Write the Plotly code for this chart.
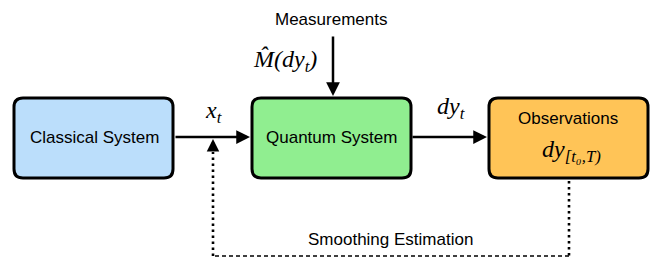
import plotly.graph_objects as go

# Diagram content
node_labels = ["Classical System", "Quantum System", "Observations"]
node_colors = ["#BBDEFB", "#90EE90", "#FFC457"]
obs_math = "dy<sub>[t₀,T)</sub>"
edge_labels = ["x<sub>t</sub>", "dy<sub>t</sub>"]
input_label = "Measurements"
input_math = "M̂(dy<sub>t</sub>)"
feedback_label = "Smoothing Estimation"

# Layout geometry (pixels)
W, H = 652, 257
box_x = [(14, 173), (252, 411), (489, 648)]
box_y = (98, 178)
R = 9
mid_y = 137

fig = go.Figure()
shapes = []
annotations = []

def rrect(x0, y0, x1, y1, r):
    return (f"M {x0+r},{y0} L {x1-r},{y0} Q {x1},{y0} {x1},{y0+r} "
            f"L {x1},{y1-r} Q {x1},{y1} {x1-r},{y1} L {x0+r},{y1} "
            f"Q {x0},{y1} {x0},{y1-r} L {x0},{y0+r} Q {x0},{y0} {x0+r},{y0} Z")

sans = "Liberation Sans, Arial, sans-serif"
serif = "Liberation Serif, Times New Roman, serif"
SF = 17
MF = 24

for (x0, x1), lab, col in zip(box_x, node_labels, node_colors):
    shapes.append(dict(type="path", path=rrect(x0, box_y[0], x1, box_y[1], R),
                       fillcolor=col, line=dict(color="black", width=3), layer="below"))

# box texts
annotations.append(dict(x=94, y=mid_y, text=node_labels[0], showarrow=False,
                        font=dict(family=sans, size=SF, color="black")))
annotations.append(dict(x=331, y=mid_y, text=node_labels[1], showarrow=False,
                        font=dict(family=sans, size=SF, color="black")))
annotations.append(dict(x=568, y=118, text=node_labels[2], showarrow=False,
                        font=dict(family=sans, size=SF, color="black")))
annotations.append(dict(x=571, y=151, text=f"<i>{obs_math}</i>", showarrow=False,
                        font=dict(family=serif, size=MF, color="black")))

# solid arrows
def arrow(x_tail, y_tail, x_tip, y_tip, size=1.1):
    annotations.append(dict(x=x_tip, y=y_tip, ax=x_tail, ay=y_tail,
                            xref="x", yref="y", axref="x", ayref="y",
                            text="", showarrow=True, arrowhead=2, arrowsize=size,
                            arrowwidth=2.5, arrowcolor="black", standoff=0))

arrow(174, mid_y, 250, mid_y)
arrow(411, mid_y, 487, mid_y)
arrow(333, 35, 333, 96)

# edge labels
annotations.append(dict(x=213, y=112, text=f"<i>{edge_labels[0]}</i>", showarrow=False,
                        font=dict(family=serif, size=MF, color="black")))
annotations.append(dict(x=451, y=108, text=f"<i>{edge_labels[1]}</i>", showarrow=False,
                        font=dict(family=serif, size=MF, color="black")))
annotations.append(dict(x=331, y=19, text=input_label, showarrow=False,
                        font=dict(family=sans, size=SF, color="black")))
annotations.append(dict(x=285, y=61, text=f"<i>{input_math}</i>", showarrow=False,
                        font=dict(family=serif, size=MF, color="black")))

# feedback path
dot = dict(color="black", width=2.6, dash="2.6px,3.4px")
shapes.append(dict(type="line", x0=569, y0=181, x1=569, y1=256, line=dot))
shapes.append(dict(type="line", x0=569, y0=256, x1=213, y1=256,
                   line=dict(color="black", width=1.3, dash="4px,3px")))
shapes.append(dict(type="line", x0=213, y0=256, x1=213, y1=152, line=dot))
arrow(213, 150, 213, 139, size=1.0)
annotations.append(dict(x=390, y=239, text=feedback_label, showarrow=False,
                        font=dict(family=sans, size=SF, color="black")))

fig.update_layout(
    width=W, height=H, margin=dict(l=0, r=0, t=0, b=0),
    paper_bgcolor="white", plot_bgcolor="white",
    xaxis=dict(range=[0, W], visible=False, fixedrange=True),
    yaxis=dict(range=[H, 0], visible=False, fixedrange=True),
    shapes=shapes, annotations=annotations, showlegend=False,
)
fig.write_html("out.html", config={"displayModeBar": False},
               post_script="document.body.style.margin='0';document.body.style.overflow='hidden';")
